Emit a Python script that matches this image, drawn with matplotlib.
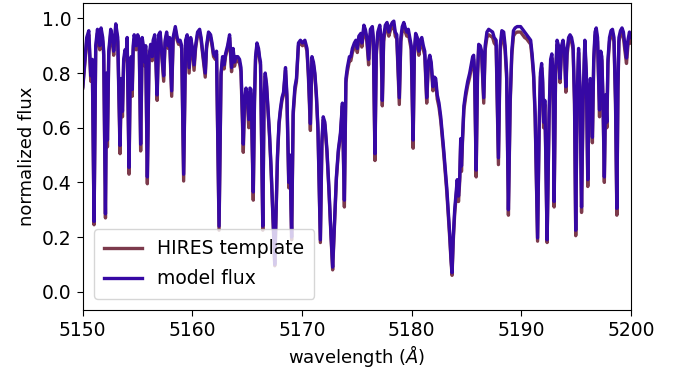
import matplotlib
matplotlib.use("Agg")
import matplotlib.pyplot as plt
import numpy as np

# wavelength grid (Angstrom) and fluxes
wavelength = [
    5150.00, 5150.18, 5150.36, 5150.55, 5150.73, 5150.87, 5151.03, 5151.18, 5151.34, 5151.46,
    5151.55, 5151.67, 5151.82, 5151.91, 5152.07, 5152.17, 5152.25, 5152.37, 5152.55, 5152.73,
    5152.82, 5153.01, 5153.19, 5153.40, 5153.51, 5153.62, 5153.73, 5153.85, 5153.96, 5154.05,
    5154.22, 5154.33, 5154.42, 5154.51, 5154.60, 5154.69, 5154.87, 5155.01, 5155.15, 5155.28,
    5155.42, 5155.56, 5155.67, 5155.74, 5155.89, 5156.04, 5156.19, 5156.33, 5156.42, 5156.56,
    5156.65, 5156.78, 5156.92, 5157.06, 5157.19, 5157.38, 5157.51, 5157.65, 5157.79, 5157.92,
    5158.11, 5158.24, 5158.44, 5158.61, 5158.74, 5158.88, 5159.02, 5159.20, 5159.38, 5159.52,
    5159.70, 5159.84, 5159.97, 5160.15, 5160.29, 5160.47, 5160.66, 5160.79, 5160.93, 5161.17,
    5161.29, 5161.47, 5161.66, 5161.79, 5161.93, 5162.09, 5162.20, 5162.43, 5162.61, 5162.75,
    5162.89, 5163.02, 5163.21, 5163.39, 5163.57, 5163.71, 5163.84, 5163.98, 5164.14, 5164.30,
    5164.43, 5164.64, 5164.75, 5164.89, 5165.03, 5165.14, 5165.25, 5165.35, 5165.55, 5165.66,
    5165.76, 5165.89, 5166.03, 5166.12, 5166.21, 5166.42, 5166.53, 5166.64, 5166.76, 5166.89,
    5167.03, 5167.17, 5167.30, 5167.42, 5167.51, 5167.62, 5167.76, 5167.90, 5168.03, 5168.17,
    5168.31, 5168.49, 5168.62, 5168.79, 5168.90, 5169.05, 5169.19, 5169.35, 5169.49, 5169.67,
    5169.85, 5170.04, 5170.26, 5170.45, 5170.58, 5170.76, 5170.90, 5171.04, 5171.17, 5171.31,
    5171.45, 5171.67, 5171.81, 5171.93, 5172.08, 5172.27, 5172.45, 5172.63, 5172.79, 5172.95,
    5173.13, 5173.31, 5173.50, 5173.68, 5173.86, 5174.00, 5174.13, 5174.32, 5174.45, 5174.59,
    5174.77, 5174.91, 5175.04, 5175.18, 5175.36, 5175.45, 5175.64, 5175.77, 5175.91, 5176.07,
    5176.23, 5176.41, 5176.50, 5176.65, 5176.77, 5176.91, 5177.09, 5177.20, 5177.32, 5177.44,
    5177.59, 5177.75, 5177.91, 5178.05, 5178.23, 5178.37, 5178.50, 5178.64, 5178.87, 5179.01,
    5179.14, 5179.28, 5179.42, 5179.55, 5179.69, 5179.83, 5179.96, 5180.13, 5180.24, 5180.36,
    5180.51, 5180.65, 5180.78, 5180.92, 5181.06, 5181.19, 5181.37, 5181.51, 5181.65, 5181.78,
    5181.94, 5182.08, 5182.19, 5182.33, 5182.49, 5182.65, 5182.79, 5182.92, 5183.06, 5183.20,
    5183.33, 5183.47, 5183.59, 5183.68, 5183.79, 5183.92, 5184.02, 5184.15, 5184.27, 5184.38,
    5184.47, 5184.54, 5184.63, 5184.76, 5184.93, 5185.11, 5185.29, 5185.43, 5185.56, 5185.65,
    5185.74, 5185.88, 5186.00, 5186.11, 5186.25, 5186.38, 5186.57, 5186.70, 5186.86, 5187.02,
    5187.20, 5187.38, 5187.52, 5187.70, 5187.91, 5188.07, 5188.22, 5188.39, 5188.52, 5188.66,
    5188.82, 5188.98, 5189.13, 5189.28, 5189.43, 5189.62, 5189.80, 5189.93, 5190.12, 5190.30,
    5190.48, 5190.66, 5190.85, 5190.98, 5191.12, 5191.26, 5191.48, 5191.62, 5191.74, 5191.85,
    5191.94, 5192.03, 5192.14, 5192.21, 5192.35, 5192.53, 5192.67, 5192.78, 5192.89, 5192.99,
    5193.12, 5193.26, 5193.39, 5193.53, 5193.67, 5193.80, 5193.94, 5194.06, 5194.17, 5194.31,
    5194.44, 5194.58, 5194.72, 5194.85, 5194.96, 5195.08, 5195.22, 5195.35, 5195.49, 5195.63,
    5195.79, 5195.93, 5196.06, 5196.17, 5196.29, 5196.36, 5196.48, 5196.60, 5196.72, 5196.83,
    5196.95, 5197.13, 5197.24, 5197.34, 5197.45, 5197.57, 5197.68, 5197.80, 5197.90, 5198.04,
    5198.18, 5198.31, 5198.45, 5198.59, 5198.71, 5198.81, 5198.90, 5199.04, 5199.18, 5199.31,
    5199.45, 5199.59, 5199.72, 5199.86, 5200.00,
]

model_flux = [
    0.750, 0.840, 0.930, 0.955, 0.790, 0.850, 0.257, 0.900, 0.960, 0.930,
    0.900, 0.965, 0.930, 0.880, 0.285, 0.800, 0.555, 0.880, 0.960, 0.920,
    0.880, 0.980, 0.930, 0.535, 0.780, 0.660, 0.850, 0.885, 0.870, 0.930,
    0.455, 0.800, 0.860, 0.740, 0.900, 0.940, 0.900, 0.940, 0.920, 0.540,
    0.930, 0.890, 0.840, 0.900, 0.420, 0.860, 0.905, 0.860, 0.920, 0.940,
    0.880, 0.720, 0.940, 0.950, 0.880, 0.790, 0.920, 0.950, 0.900, 0.930,
    0.735, 0.930, 0.970, 0.930, 0.915, 0.920, 0.900, 0.430, 0.920, 0.940,
    0.820, 0.930, 0.900, 0.830, 0.900, 0.950, 0.960, 0.930, 0.880, 0.800,
    0.900, 0.950, 0.940, 0.910, 0.870, 0.860, 0.880, 0.240, 0.800, 0.860,
    0.830, 0.870, 0.900, 0.940, 0.820, 0.890, 0.840, 0.860, 0.860, 0.850,
    0.820, 0.540, 0.700, 0.745, 0.700, 0.630, 0.745, 0.740, 0.365, 0.700,
    0.860, 0.910, 0.890, 0.860, 0.840, 0.240, 0.700, 0.800, 0.760, 0.670,
    0.580, 0.460, 0.330, 0.200, 0.100, 0.280, 0.500, 0.620, 0.670, 0.710,
    0.730, 0.820, 0.720, 0.400, 0.500, 0.200, 0.660, 0.750, 0.780, 0.910,
    0.920, 0.910, 0.920, 0.890, 0.800, 0.615, 0.860, 0.840, 0.800, 0.720,
    0.600, 0.190, 0.550, 0.640, 0.620, 0.520, 0.380, 0.220, 0.090, 0.250,
    0.420, 0.520, 0.580, 0.690, 0.335, 0.780, 0.820, 0.860, 0.860, 0.890,
    0.910, 0.920, 0.890, 0.935, 0.945, 0.910, 0.975, 0.960, 0.930, 0.850,
    0.960, 0.970, 0.930, 0.505, 0.880, 0.950, 0.975, 0.930, 0.700, 0.930,
    0.975, 0.985, 0.950, 0.970, 0.985, 0.990, 0.950, 0.940, 0.710, 0.930,
    0.970, 0.985, 0.965, 0.950, 0.960, 0.930, 0.900, 0.555, 0.880, 0.945,
    0.930, 0.880, 0.920, 0.930, 0.900, 0.880, 0.710, 0.840, 0.865, 0.840,
    0.750, 0.785, 0.780, 0.720, 0.690, 0.640, 0.580, 0.520, 0.450, 0.380,
    0.300, 0.210, 0.120, 0.070, 0.200, 0.300, 0.350, 0.410, 0.350, 0.420,
    0.560, 0.460, 0.560, 0.680, 0.730, 0.770, 0.800, 0.830, 0.860, 0.865,
    0.800, 0.445, 0.800, 0.905, 0.900, 0.880, 0.710, 0.900, 0.950, 0.960,
    0.955, 0.950, 0.930, 0.920, 0.490, 0.900, 0.955, 0.950, 0.900, 0.800,
    0.300, 0.700, 0.880, 0.955, 0.965, 0.970, 0.970, 0.970, 0.960, 0.950,
    0.940, 0.930, 0.920, 0.870, 0.800, 0.650, 0.197, 0.600, 0.800, 0.835,
    0.780, 0.620, 0.700, 0.550, 0.190, 0.650, 0.850, 0.870, 0.800, 0.330,
    0.800, 0.920, 0.900, 0.780, 0.900, 0.920, 0.880, 0.750, 0.880, 0.930,
    0.940, 0.930, 0.900, 0.700, 0.225, 0.700, 0.890, 0.750, 0.310, 0.700,
    0.920, 0.800, 0.410, 0.720, 0.780, 0.750, 0.565, 0.850, 0.950, 0.965,
    0.930, 0.665, 0.880, 0.860, 0.700, 0.420, 0.720, 0.620, 0.850, 0.930,
    0.955, 0.960, 0.930, 0.700, 0.305, 0.750, 0.930, 0.955, 0.965, 0.950,
    0.900, 0.855, 0.920, 0.950, 0.930,
]

template_flux = [
    0.745, 0.830, 0.915, 0.940, 0.770, 0.835, 0.245, 0.885, 0.945, 0.915,
    0.885, 0.950, 0.915, 0.865, 0.270, 0.785, 0.530, 0.865, 0.945, 0.905,
    0.865, 0.965, 0.915, 0.505, 0.765, 0.640, 0.835, 0.870, 0.855, 0.915,
    0.430, 0.785, 0.845, 0.715, 0.885, 0.925, 0.885, 0.925, 0.905, 0.515,
    0.915, 0.875, 0.825, 0.885, 0.395, 0.845, 0.890, 0.845, 0.905, 0.925,
    0.865, 0.700, 0.930, 0.940, 0.870, 0.770, 0.910, 0.940, 0.890, 0.920,
    0.715, 0.920, 0.960, 0.920, 0.905, 0.910, 0.890, 0.405, 0.910, 0.930,
    0.800, 0.920, 0.890, 0.810, 0.890, 0.940, 0.950, 0.920, 0.870, 0.785,
    0.890, 0.940, 0.930, 0.900, 0.860, 0.850, 0.870, 0.225, 0.790, 0.850,
    0.815, 0.860, 0.890, 0.930, 0.805, 0.880, 0.825, 0.850, 0.845, 0.835,
    0.805, 0.510, 0.685, 0.730, 0.685, 0.600, 0.730, 0.725, 0.335, 0.690,
    0.850, 0.900, 0.880, 0.850, 0.830, 0.225, 0.690, 0.790, 0.750, 0.660,
    0.570, 0.450, 0.320, 0.190, 0.095, 0.270, 0.490, 0.610, 0.660, 0.700,
    0.720, 0.810, 0.705, 0.380, 0.490, 0.190, 0.645, 0.735, 0.770, 0.900,
    0.910, 0.900, 0.910, 0.880, 0.785, 0.590, 0.850, 0.830, 0.790, 0.710,
    0.590, 0.180, 0.540, 0.630, 0.610, 0.510, 0.370, 0.210, 0.080, 0.240,
    0.410, 0.510, 0.570, 0.680, 0.310, 0.765, 0.805, 0.845, 0.845, 0.875,
    0.895, 0.905, 0.875, 0.920, 0.930, 0.895, 0.960, 0.945, 0.915, 0.830,
    0.945, 0.955, 0.915, 0.480, 0.865, 0.935, 0.960, 0.915, 0.680, 0.915,
    0.960, 0.970, 0.935, 0.955, 0.970, 0.975, 0.935, 0.925, 0.685, 0.915,
    0.955, 0.970, 0.950, 0.935, 0.945, 0.915, 0.885, 0.525, 0.865, 0.930,
    0.915, 0.865, 0.905, 0.915, 0.885, 0.865, 0.690, 0.825, 0.850, 0.825,
    0.735, 0.770, 0.765, 0.705, 0.675, 0.625, 0.565, 0.505, 0.435, 0.365,
    0.285, 0.195, 0.110, 0.060, 0.185, 0.285, 0.335, 0.395, 0.330, 0.405,
    0.545, 0.440, 0.545, 0.665, 0.715, 0.755, 0.785, 0.815, 0.845, 0.850,
    0.785, 0.420, 0.785, 0.890, 0.885, 0.865, 0.690, 0.885, 0.930, 0.940,
    0.935, 0.930, 0.910, 0.900, 0.465, 0.880, 0.935, 0.930, 0.880, 0.780,
    0.280, 0.685, 0.865, 0.935, 0.945, 0.950, 0.950, 0.950, 0.940, 0.930,
    0.925, 0.915, 0.905, 0.855, 0.785, 0.635, 0.185, 0.585, 0.785, 0.820,
    0.765, 0.600, 0.685, 0.535, 0.180, 0.635, 0.835, 0.855, 0.785, 0.310,
    0.785, 0.905, 0.885, 0.765, 0.885, 0.905, 0.865, 0.730, 0.865, 0.915,
    0.925, 0.915, 0.885, 0.685, 0.205, 0.685, 0.875, 0.730, 0.290, 0.685,
    0.905, 0.780, 0.385, 0.705, 0.765, 0.735, 0.545, 0.835, 0.935, 0.950,
    0.915, 0.640, 0.865, 0.845, 0.685, 0.400, 0.705, 0.600, 0.835, 0.915,
    0.940, 0.945, 0.915, 0.685, 0.280, 0.735, 0.915, 0.940, 0.950, 0.930,
    0.880, 0.835, 0.900, 0.930, 0.910,
]

template_color = '#7c3a4c'
model_color = '#3608a4'

fig = plt.figure(figsize=(6.84, 3.70), dpi=100)
ax = fig.add_axes([0.121, 0.162, 0.8015, 0.829])

ax.plot(wavelength, template_flux, color=template_color, lw=2.4, label='HIRES template')
ax.plot(wavelength, model_flux, color=model_color, lw=2.4, label='model flux')

ax.set_xlim(5150, 5200)
ax.set_ylim(-0.067, 1.055)
ax.set_xticks(np.arange(5150, 5201, 10))
ax.set_yticks(np.arange(0.0, 1.01, 0.2))
ax.tick_params(labelsize=13.5, length=4.5)

ax.set_xlabel(r'wavelength ($\AA$)', fontsize=13, labelpad=2)
ax.set_ylabel('normalized flux', fontsize=13)
ax.legend(loc='lower left', fontsize=13.5, labelspacing=0.6, borderpad=0.55,
          borderaxespad=0.6)

fig.savefig('out.png', dpi=100)
